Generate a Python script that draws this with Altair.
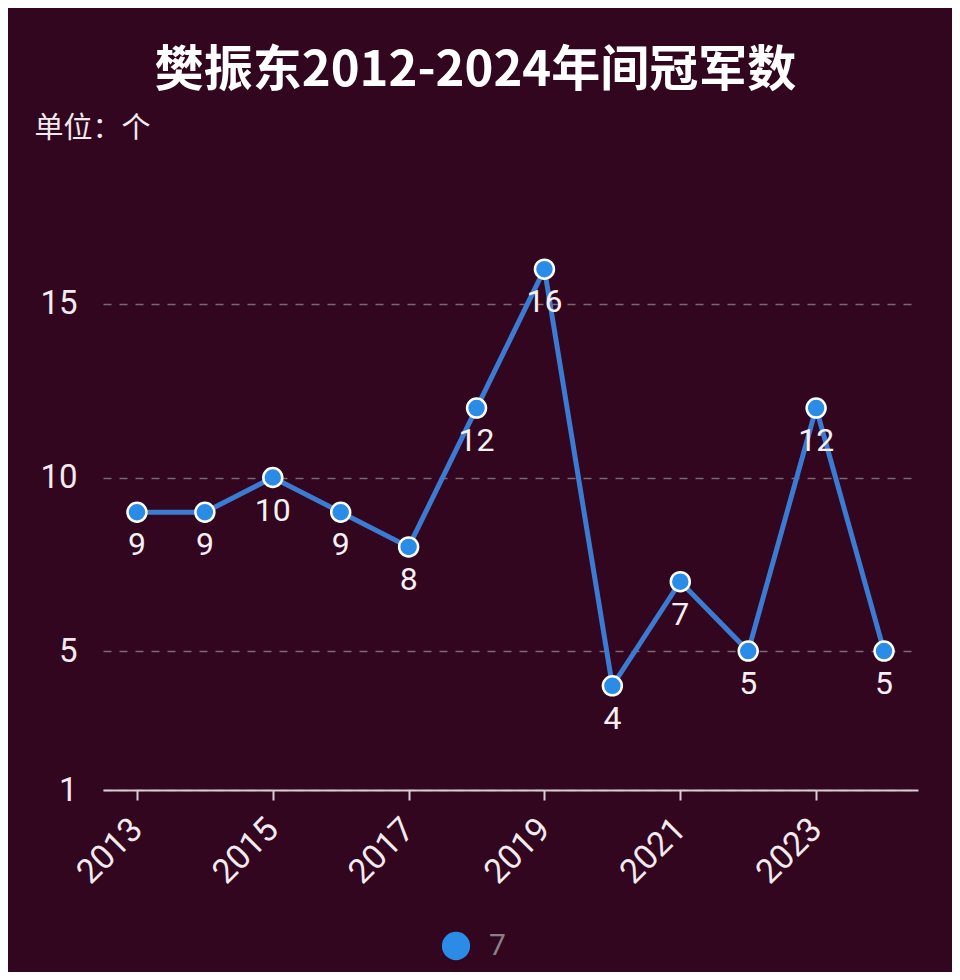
import altair as alt
import pandas as pd

years = ["2013", "2014", "2015", "2016", "2017", "2018", "2019", "2020", "2021", "2022", "2023", "2024"]
titles = [9, 9, 10, 9, 8, 12, 16, 4, 7, 5, 12, 5]
series = ["7"] * len(years)
x_label_years = ["2013", "2015", "2017", "2019", "2021", "2023"]
y_ticks = [1, 5, 10, 15]

df = pd.DataFrame({"year": years, "count": titles, "series": series})

FONT = "Noto Sans CJK SC"
NUMFONT = "Roboto"
BG = "#31061e"

x_enc = alt.X("year:O", scale=alt.Scale(type="point", padding=0.5),
              axis=alt.Axis(values=x_label_years, labelAngle=-45, labelAlign="right",
                            labelBaseline="middle", labelFontSize=34, labelColor="#f2eaee",
                            labelFont=NUMFONT, labelPadding=24, tickColor="#d8cdd3", tickSize=10,
                            tickWidth=2, domainColor="#d8cdd3", domainWidth=2, grid=False,
                            title=None))
y_enc = alt.Y("count:Q", scale=alt.Scale(domain=[1, 19], nice=False, zero=False),
              axis=alt.Axis(values=y_ticks, labelFontSize=33, labelColor="#f2eaee", labelFont=NUMFONT,
                            labelPadding=26, ticks=False, domain=False, grid=True,
                            gridColor="#7e6872", gridDash=[8, 8], gridWidth=1.5,
                            title="单位：个", titleAngle=0, titleAlign="left", titleBaseline="alphabetic",
                            titleX=-69, titleY=-28, titleFontSize=29, titleFontWeight="normal",
                            titleColor="#f2eaee", titleFont=FONT))

base = alt.Chart(df)

line = base.mark_line(color="#3c7bd2", strokeWidth=5).encode(x=x_enc, y=y_enc)

points = base.mark_point(filled=True, size=360, stroke="white", strokeWidth=2.5, opacity=1).encode(
    x=x_enc, y=y_enc,
    color=alt.Color("series:N", scale=alt.Scale(range=["#2a8ce6"]),
                    legend=alt.Legend(orient="none", legendX=338, legendY=766, title=None,
                                      symbolSize=800, symbolType="circle", symbolStrokeWidth=0,
                                      labelFontSize=30, labelColor="#8a7f86", labelFont=NUMFONT,
                                      labelOffset=18, symbolOpacity=1)))

labels = base.mark_text(dy=33, fontSize=32, color="#f6eff3", font=NUMFONT).encode(
    x=x_enc, y=y_enc, text="count:Q")

chart = alt.layer(line, points, labels).properties(
    width=815, height=625,
    autosize=alt.AutoSizeParams(type="none"),
    padding={"left": 95, "top": 157, "right": 34, "bottom": 182},
    background=BG,
    title=alt.TitleParams("樊振东2012-2024年间冠军数", fontSize=49, fontWeight="bold",
                          color="#ffffff", font=FONT, anchor="middle", offset=18, dx=-35),
).configure_view(stroke=None)

chart.save("out.html", embed_options={"renderer": "svg", "actions": False})
